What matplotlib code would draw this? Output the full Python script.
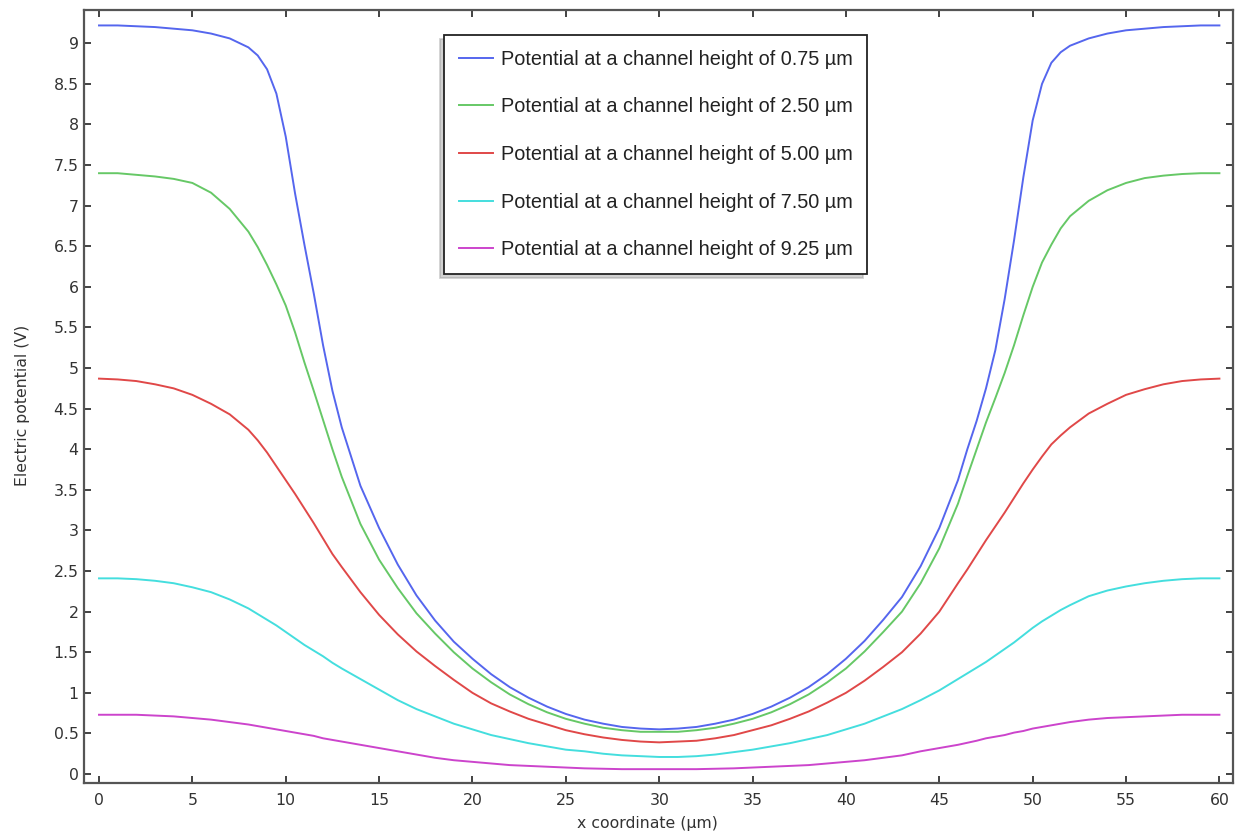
import matplotlib
matplotlib.use("Agg")
import matplotlib.pyplot as plt

x_um = [0, 1, 2, 3, 4, 5, 6, 7, 8,
        8.5, 9, 9.5, 10, 10.5, 11, 11.5, 12, 12.5,
        13, 14, 15, 16, 17, 18, 19, 20, 21, 22, 23, 24, 25, 26, 27, 28, 29,
        30, 31, 32, 33, 34, 35, 36, 37, 38, 39, 40, 41, 42, 43, 44, 45, 46,
        46.5, 47, 47.5, 48, 48.5, 49, 49.5, 50, 50.5, 51, 51.5,
        52, 53, 54, 55, 56, 57, 58, 59, 60]

pot_075 = [9.22, 9.22, 9.21, 9.20, 9.18, 9.16, 9.12, 9.06, 8.95,
           8.85, 8.68, 8.38, 7.85, 7.15, 6.52, 5.92, 5.28, 4.72,
           4.27, 3.55, 3.03, 2.58, 2.20, 1.89, 1.63, 1.42, 1.23, 1.07, 0.94, 0.83, 0.74, 0.67, 0.62, 0.58, 0.56,
           0.55, 0.56, 0.58, 0.62, 0.67, 0.74, 0.83, 0.94, 1.07, 1.23, 1.42, 1.64, 1.90, 2.18, 2.56, 3.03, 3.62,
           4.00, 4.35, 4.75, 5.22, 5.85, 6.57, 7.35, 8.05, 8.50, 8.76, 8.89,
           8.97, 9.06, 9.12, 9.16, 9.18, 9.20, 9.21, 9.22, 9.22]

pot_250 = [7.40, 7.40, 7.38, 7.36, 7.33, 7.28, 7.16, 6.96, 6.68,
           6.49, 6.27, 6.03, 5.77, 5.44, 5.07, 4.72, 4.36, 4.00,
           3.66, 3.08, 2.64, 2.29, 1.98, 1.73, 1.50, 1.30, 1.13, 0.98, 0.86, 0.76, 0.68, 0.62, 0.57, 0.54, 0.52,
           0.52, 0.52, 0.54, 0.57, 0.62, 0.68, 0.76, 0.86, 0.98, 1.13, 1.30, 1.51, 1.75, 2.00, 2.35, 2.78, 3.33,
           3.67, 4.00, 4.33, 4.63, 4.94, 5.28, 5.65, 6.00, 6.30, 6.52, 6.72,
           6.87, 7.06, 7.19, 7.28, 7.34, 7.37, 7.39, 7.40, 7.40]

pot_500 = [4.87, 4.86, 4.84, 4.80, 4.75, 4.67, 4.56, 4.43, 4.24,
           4.11, 3.96, 3.79, 3.62, 3.45, 3.27, 3.09, 2.90, 2.71,
           2.55, 2.24, 1.96, 1.72, 1.51, 1.33, 1.16, 1.00, 0.87, 0.77, 0.68, 0.61, 0.54, 0.49, 0.45, 0.42, 0.40,
           0.39, 0.40, 0.41, 0.44, 0.48, 0.54, 0.60, 0.68, 0.77, 0.88, 1.00, 1.15, 1.32, 1.50, 1.73, 2.00, 2.35,
           2.52, 2.70, 2.88, 3.05, 3.22, 3.40, 3.58, 3.75, 3.91, 4.06, 4.17,
           4.27, 4.44, 4.56, 4.67, 4.74, 4.80, 4.84, 4.86, 4.87]

pot_750 = [2.41, 2.41, 2.40, 2.38, 2.35, 2.30, 2.24, 2.15, 2.04,
           1.97, 1.90, 1.83, 1.75, 1.67, 1.59, 1.52, 1.45, 1.37,
           1.30, 1.17, 1.04, 0.91, 0.80, 0.71, 0.62, 0.55, 0.48, 0.43, 0.38, 0.34, 0.30, 0.28, 0.25, 0.23, 0.22,
           0.21, 0.21, 0.22, 0.24, 0.27, 0.30, 0.34, 0.38, 0.43, 0.48, 0.55, 0.62, 0.71, 0.80, 0.91, 1.03, 1.17,
           1.24, 1.31, 1.38, 1.46, 1.54, 1.62, 1.71, 1.80, 1.88, 1.95, 2.02,
           2.08, 2.19, 2.26, 2.31, 2.35, 2.38, 2.40, 2.41, 2.41]

pot_925 = [0.73, 0.73, 0.73, 0.72, 0.71, 0.69, 0.67, 0.64, 0.61,
           0.59, 0.57, 0.55, 0.53, 0.51, 0.49, 0.47, 0.44, 0.42,
           0.40, 0.36, 0.32, 0.28, 0.24, 0.20, 0.17, 0.15, 0.13, 0.11, 0.10, 0.09, 0.08, 0.07, 0.065, 0.06, 0.06,
           0.06, 0.06, 0.06, 0.065, 0.07, 0.08, 0.09, 0.10, 0.11, 0.13, 0.15, 0.17, 0.20, 0.23, 0.28, 0.32, 0.36,
           0.385, 0.41, 0.44, 0.46, 0.48, 0.51, 0.53, 0.56, 0.58, 0.60, 0.62,
           0.64, 0.67, 0.69, 0.70, 0.71, 0.72, 0.73, 0.73, 0.73]

labels = ["Potential at a channel height of 0.75 µm",
          "Potential at a channel height of 2.50 µm",
          "Potential at a channel height of 5.00 µm",
          "Potential at a channel height of 7.50 µm",
          "Potential at a channel height of 9.25 µm"]
series = [pot_075, pot_250, pot_500, pot_750, pot_925]
colors = ["#5566ee", "#66c866", "#e04848", "#44dede", "#cc44cc"]

x_ticks = [0, 5, 10, 15, 20, 25, 30, 35, 40, 45, 50, 55, 60]
y_ticks = [0, 0.5, 1, 1.5, 2, 2.5, 3, 3.5, 4, 4.5, 5, 5.5, 6, 6.5, 7, 7.5, 8, 8.5, 9]
y_ticklabels = ["0", "0.5", "1", "1.5", "2", "2.5", "3", "3.5", "4", "4.5", "5",
                "5.5", "6", "6.5", "7", "7.5", "8", "8.5", "9"]

fig = plt.figure(figsize=(12.38, 8.34), dpi=100)
ax = fig.add_axes([0.0679, 0.0612, 0.9281, 0.9268])

for vals, c, lab in zip(series, colors, labels):
    ax.plot(x_um, vals, color=c, lw=1.4, label=lab, solid_joinstyle="round")

ax.set_xlim(-0.8, 60.73)
ax.set_ylim(-0.11, 9.41)
ax.set_xticks(x_ticks)
ax.set_yticks(y_ticks)
ax.set_yticklabels(y_ticklabels)
ax.tick_params(direction="in", length=5, width=1.2, top=True, right=True,
               labelsize=11.3, labelcolor="#333333", color="#222222")
ax.tick_params(axis="x", pad=7)
ax.tick_params(axis="y", pad=4)
for s in ax.spines.values():
    s.set_color("#555555")
    s.set_linewidth(1.6)

ax.set_xlabel("x coordinate (µm)", fontsize=11.3, color="#333333")
ax.set_ylabel("Electric potential (V)", fontsize=11.3, color="#333333")
ax.xaxis.set_label_coords(0.490, -0.043)
ax.yaxis.set_label_coords(-0.047, 0.488)

leg = ax.legend(loc="upper left", bbox_to_anchor=(0.3586, 0.958),
                bbox_transform=fig.transFigure,
                prop={"family": "Liberation Sans", "size": 14.3},
                frameon=True, fancybox=False,
                shadow={"ox": -3, "oy": -3, "color": "#999999", "alpha": 0.45},
                handlelength=1.75, handletextpad=0.38, labelspacing=1.44,
                borderpad=0.74, borderaxespad=0)
leg.get_frame().set_edgecolor("#222222")
leg.get_frame().set_linewidth(1.3)
for t in leg.get_texts():
    t.set_color("#222222")

fig.savefig("out.png", dpi=100)
